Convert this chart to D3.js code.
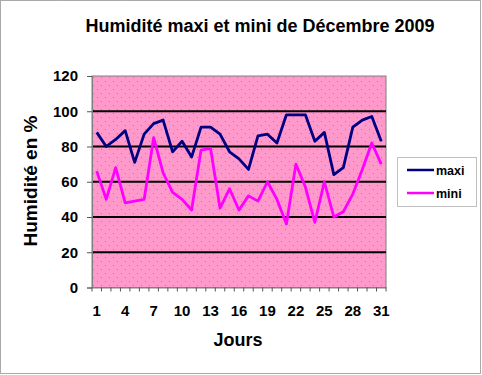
<!DOCTYPE html>
<html><head><meta charset="utf-8">
<script src="https://cdn.jsdelivr.net/npm/d3@7"></script>
<style>body{margin:0;background:#fff}svg{display:block}text{font-family:"Liberation Sans",Arial,sans-serif;font-weight:bold}</style>
</head><body><svg id="c" width="482" height="375"></svg>
<script>
const days = d3.range(1, 32);
const maxi = [88,80,84,89,71,87,93,95,77,83,74,91,91,87,77,73,67,86,87,82,98,98,98,83,88,64,68,91,95,97,83];
const mini = [66,50,68,48,49,50,85,65,54,50,44,78,79,45,56,44,52,49,60,50,36,70,57,37,60,40,43,53,67,82,70];
const yTicks = [0,20,40,60,80,100,120];
const xTickLabels = [1,4,7,10,13,16,19,22,25,28,31];
const seriesNames = ["maxi","mini"];
const colors = ["#000080","#FF00FF"];

const svg = d3.select("#c");
const W = 482, H = 375;
const L = 92, R = 386, T = 76, B = 287.5;

svg.append("rect").attr("x",0.5).attr("y",0.5).attr("width",W-2).attr("height",H-2)
  .attr("fill","#fff").attr("stroke","#555").attr("stroke-dasharray","1,1");

const defs = svg.append("defs");
const pat = defs.append("pattern").attr("id","dots").attr("patternUnits","userSpaceOnUse")
  .attr("width",8).attr("height",8);
pat.append("rect").attr("width",8).attr("height",8).attr("fill","#FF99CC");
pat.append("rect").attr("x",1).attr("y",1).attr("width",1).attr("height",1).attr("fill","#F0609F");
pat.append("rect").attr("x",5).attr("y",5).attr("width",1).attr("height",1).attr("fill","#F0609F");

const x = d3.scaleBand().domain(days).range([L,R]);
const y = d3.scaleLinear().domain([0,120]).range([B,T]);

svg.append("rect").attr("x",L).attr("y",T).attr("width",R-L).attr("height",B-T)
  .attr("fill","url(#dots)").attr("stroke","#808080");

// gridlines
svg.append("g").selectAll("line").data(yTicks.filter(v=>v>0 && v<120)).join("line")
  .attr("x1",L).attr("x2",R).attr("y1",d=>y(d)).attr("y2",d=>y(d))
  .attr("stroke","#000").attr("stroke-width",2.2);

// y axis
const ya = svg.append("g").attr("transform",`translate(${L},0)`)
  .call(d3.axisLeft(y).tickValues(yTicks).tickSize(5).tickPadding(9));
ya.select(".domain").attr("stroke","#808080");
ya.selectAll(".tick line").attr("stroke","#555");
ya.selectAll("text").attr("font-size",15).attr("fill","#000")
  .attr("font-family","Liberation Sans, Arial").attr("font-weight","bold");

// x axis
const xa = svg.append("g").attr("transform",`translate(0,${B})`)
  .call(d3.axisBottom(x).tickValues(xTickLabels).tickSize(0).tickPadding(18));
xa.select(".domain").attr("stroke","#808080");
xa.selectAll("text").attr("font-size",15).attr("fill","#000")
  .attr("font-family","Liberation Sans, Arial").attr("font-weight","bold");
svg.append("g").selectAll("line").data(days.concat([32])).join("line")
  .attr("x1",d=>d<32?x(d):R).attr("x2",d=>d<32?x(d):R)
  .attr("y1",B).attr("y2",B+4).attr("stroke","#555");

// lines
const line = d3.line().x((d,i)=>x(days[i])+x.bandwidth()/2).y(d=>y(d));
[maxi,mini].forEach((s,k)=>{
  svg.append("path").attr("d",line(s)).attr("fill","none")
    .attr("stroke",colors[k]).attr("stroke-width",2.8).attr("stroke-linejoin","round");
});

// titles
svg.append("text").attr("x",260).attr("y",32).attr("text-anchor","middle")
  .attr("font-size",18).text("Humidité maxi et mini de Décembre 2009");
svg.append("text").attr("transform","translate(37,181) rotate(-90)").attr("text-anchor","middle")
  .attr("font-size",19).text("Humidité en %");
svg.append("text").attr("x",238).attr("y",346).attr("text-anchor","middle")
  .attr("font-size",18).text("Jours");

// legend
const lg = svg.append("g");
lg.append("rect").attr("x",397.5).attr("y",157.5).attr("width",79).attr("height",49)
  .attr("fill","#fff").attr("stroke","#808080").attr("stroke-dasharray","1,1");
seriesNames.forEach((n,k)=>{
  const yy = 170 + k*23;
  lg.append("line").attr("x1",407).attr("x2",434).attr("y1",yy).attr("y2",yy)
    .attr("stroke",colors[k]).attr("stroke-width",2.5);
  lg.append("text").attr("x",436).attr("y",yy+4.5).attr("font-size",12.5).text(n);
});
</script></body></html>
